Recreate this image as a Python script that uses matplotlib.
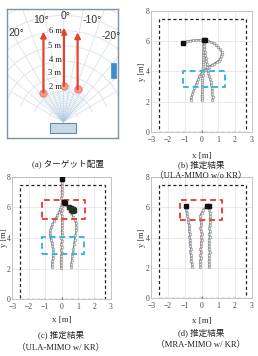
import numpy as np
import matplotlib
matplotlib.use('Agg')
import matplotlib.pyplot as plt
from matplotlib.patches import Rectangle

# ---------------- data ----------------
# (a) target layout (schematic, metres)
target_x = [-1.32, 0.03, 0.93]
target_start = [1.93, 2.37, 2.15]
target_end = [5.94, 6.20, 5.90]
range_labels = ['2 m', '3 m', '4 m', '5 m', '6 m']
angle_labels = ['20°', '10°', '0°', '-10°', '-20°']

# (b) ULA-MIMO w/o KR
blue_b_x = [-0.65, -0.60, -0.55, -0.48, -0.42, -0.35, -0.28, -0.20, -0.12, -0.03, 0.08, 0.20, 0.32, 0.45, 0.60,
            0.75, 0.90, 1.02, 1.12, 1.18, 1.20, 1.20, 1.12, 1.00, 0.88, 0.72, 0.55, 0.38, 0.20]
blue_b_y = [2.12, 2.30, 2.50, 2.70, 2.90, 3.10, 3.30, 3.50, 3.70, 3.85, 4.00, 4.12, 4.22, 4.32, 4.42,
            4.52, 4.62, 4.72, 4.85, 5.00, 5.15, 5.30, 5.45, 5.60, 5.73, 5.85, 5.95, 6.02, 6.06]
red_b_x = [0.00, 0.01, 0.00, 0.02, 0.01, 0.03, 0.02, 0.04, 0.03, 0.05, 0.04, 0.06, 0.05, 0.07, 0.06,
           0.08, 0.07, 0.09, 0.08, 0.10, 0.09, 0.11, 0.10, 0.12, 0.11, 0.12, 0.12]
red_b_y = [2.10, 2.25, 2.40, 2.55, 2.70, 2.85, 3.00, 3.15, 3.30, 3.45, 3.60, 3.75, 3.90, 4.05, 4.20,
           4.35, 4.50, 4.65, 4.80, 4.95, 5.10, 5.25, 5.40, 5.55, 5.70, 5.85, 6.05]
green_b_x = [0.65, 0.66, 0.64, 0.63, 0.60, 0.58, 0.55, 0.50, 0.45, 0.40, 0.36, 0.33, 0.30, 0.28, 0.25,
             0.22, 0.20, 0.17, 0.15, 0.12, 0.08, -0.10, -0.30, -0.50, -0.70, -0.85, -1.00, -1.09]
green_b_y = [2.12, 2.30, 2.50, 2.70, 2.90, 3.10, 3.30, 3.50, 3.70, 3.90, 4.10, 4.30, 4.50, 4.70, 4.90,
             5.10, 5.30, 5.50, 5.70, 5.90, 6.05, 6.08, 6.08, 6.06, 6.03, 6.00, 5.93, 5.85]

# (c) ULA-MIMO w/ KR
blue_c_x = [-0.60, -0.58, -0.55, -0.53, -0.52, -0.50, -0.52, -0.55, -0.60, -0.65, -0.68, -0.70, -0.68, -0.62,
            -0.55, -0.45, -0.35, -0.25, -0.15, -0.07, 0.00, 0.08, 0.15]
blue_c_y = [2.09, 2.30, 2.50, 2.70, 2.90, 3.10, 3.30, 3.50, 3.70, 3.90, 4.10, 4.30, 4.50, 4.70,
            4.90, 5.10, 5.30, 5.50, 5.70, 5.90, 6.10, 6.25, 6.35]
red_c_x = [-0.05, -0.03, -0.06, -0.02, -0.04, 0.00, -0.03, 0.01, -0.02, 0.02, -0.01, 0.03, 0.00, 0.04, 0.01,
           0.03, 0.00, 0.02, -0.01, 0.01, -0.02, 0.00, 0.02, -0.01, 0.01, 0.00, 0.02, 0.00, 0.01, 0.00]
red_c_y = [2.02, 2.22, 2.42, 2.62, 2.82, 3.02, 3.22, 3.42, 3.62, 3.82, 4.02, 4.22, 4.42, 4.62, 4.82,
           5.02, 5.22, 5.42, 5.62, 5.82, 6.02, 6.22, 6.42, 6.62, 6.82, 7.02, 7.22, 7.42, 7.62, 7.85]
green_c_x = [0.58, 0.60, 0.62, 0.66, 0.70, 0.73, 0.76, 0.80, 0.85, 0.90, 0.90, 0.86, 0.80, 0.70, 0.60,
             0.50, 0.40, 0.30, 0.20]
green_c_y = [2.09, 2.30, 2.57, 2.80, 3.05, 3.30, 3.60, 3.90, 4.20, 4.50, 4.75, 5.00, 5.20, 5.40, 5.60,
             5.80, 6.00, 6.18, 6.30]
end_c_x = [0.45, 0.55, 0.62, 0.70, 0.75, 0.68, 0.58]
end_c_y = [6.00, 5.95, 5.90, 5.88, 5.80, 5.75, 5.85]

# (d) MRA-MIMO w/ KR
blue_d_x = [-0.55, -0.58, -0.62, -0.60, -0.65, -0.68, -0.64, -0.66, -0.70, -0.68, -0.72, -0.70, -0.74, -0.72,
            -0.76, -0.78, -0.80, -0.85, -0.88, -0.92, -0.93]
blue_d_y = [2.06, 2.25, 2.45, 2.65, 2.85, 3.05, 3.25, 3.45, 3.65, 3.85, 4.05, 4.25, 4.45, 4.65,
            4.85, 5.05, 5.25, 5.45, 5.65, 5.85, 6.10]
red_d_x = [-0.09, -0.06, -0.10, -0.05, -0.08, -0.03, -0.07, -0.02, -0.05, 0.00, -0.04, 0.01, -0.03, -0.06,
           -0.02, -0.05, -0.08, -0.09, 0.00, 0.11, 0.25, 0.35]
red_d_y = [2.02, 2.22, 2.42, 2.62, 2.82, 3.02, 3.22, 3.42, 3.62, 3.82, 4.02, 4.22, 4.42, 4.62,
           4.82, 5.02, 5.22, 5.45, 5.65, 5.85, 6.02, 6.10]
green_d_x = [0.45, 0.46, 0.44, 0.47, 0.45, 0.48, 0.46, 0.44, 0.47, 0.45, 0.48, 0.46, 0.49, 0.47, 0.48,
             0.50, 0.48, 0.50, 0.49, 0.47, 0.47]
green_d_y = [2.02, 2.22, 2.42, 2.62, 2.82, 3.02, 3.22, 3.42, 3.62, 3.82, 4.02, 4.22, 4.42, 4.62, 4.82,
             5.02, 5.22, 5.42, 5.62, 5.85, 6.11]

# regions
area_rect = (-2.55, 0.0, 2.65, 7.47)
cyan_b = (-1.12, 2.96, 1.40, 4.05)
red_c = (-1.20, 5.24, 1.45, 6.49)
cyan_c = (-1.20, 2.96, 1.40, 4.07)
red_d = (-1.30, 5.18, 1.22, 6.52)

xticks = [-3, -2, -1, 0, 1, 2, 3]
yticks = [0, 2, 4, 6, 8]

C_BLUE = '#5a64a8'
C_RED = '#c4545e'
C_GREEN = '#5a9a66'

SERIF = ['Liberation Serif', 'DejaVu Serif']
JP = ['Liberation Serif', 'Noto Sans CJK JP']

fig = plt.figure(figsize=(2.58, 3.56), dpi=100)
W, H = 258.0, 356.0


def px_axes(l, t, r, b):
    return fig.add_axes([l / W, 1 - b / H, (r - l) / W, (b - t) / H])


# ---------------- panel (a) ----------------
axa = px_axes(7, 9, 118, 138)
axa.set_xlim(-3.72, 3.59)
axa.set_ylim(-1.05, 7.43)
axa.set_xticks([])
axa.set_yticks([])
for s in axa.spines.values():
    s.set_color('#7f93a8')
    s.set_linewidth(1.0)

gc = '#dae2ea'
for ang in range(-60, 61, 10):
    t = np.deg2rad(ang)
    axa.plot([0, 12 * np.sin(t)], [0, 12 * np.cos(t)], color=gc, lw=0.6, zorder=1)
for ang in np.arange(-45, 46, 3):
    t = np.deg2rad(ang)
    axa.plot([0, 2.3 * np.sin(t)], [0, 2.3 * np.cos(t)], color='#a9c6e2', lw=0.4,
             ls=(0, (1.5, 1.5)), zorder=1)
th = np.deg2rad(np.linspace(-70, 70, 200))
for r in range(1, 10):
    axa.plot(r * np.sin(th), r * np.cos(th), color=gc, lw=0.6, zorder=1)

for x, y0, y1 in zip(target_x, target_start, target_end):
    axa.annotate('', xy=(x, y1), xytext=(x, y0),
                 arrowprops=dict(arrowstyle='-|>', color='#e5432c', lw=1.6,
                                 mutation_scale=8, shrinkA=0, shrinkB=0), zorder=4)
    axa.plot([x], [y0], 'o', ms=5, color='#f3a08e', mec='#f08a74', zorder=3)

range_pos = [2.32, 3.22, 4.08, 5.0, 5.98]
for lab, yy in zip(range_labels, range_pos):
    axa.text(-0.56, yy, lab, ha='center', va='center', fontsize=6.2, family=SERIF,
             color='#222222', zorder=5,
             bbox=dict(boxstyle='square,pad=0.05', fc='white', ec='none', alpha=0.6))

angle_pos = [(-3.13, 5.86), (-1.48, 6.71), (0.16, 6.97), (1.88, 6.71), (3.13, 5.66)]
for lab, (xx, yy) in zip(angle_labels, angle_pos):
    axa.text(xx, yy, lab, ha='center', va='center', fontsize=7.5,
             family=['Liberation Sans', 'DejaVu Sans'], color='#333333', zorder=5)

axa.add_patch(Rectangle((-0.89, -0.72), 1.71, 0.65, fc='#cad9e6', ec='#5f8ab0', lw=0.8, zorder=3))
axa.add_patch(Rectangle((3.13, 2.89), 0.33, 0.99, fc='#3c8dc9', ec='#3c8dc9', lw=0.5, zorder=3))


# ---------------- trajectory panels ----------------
def traj_axes(ax, ylab_x, xlab_y):
    ax.set_xlim(-3, 3)
    ax.set_ylim(0, 8)
    ax.set_xticks(xticks)
    ax.set_yticks(yticks)
    ax.grid(True, color='#e6e6e6', lw=0.6)
    ax.set_axisbelow(True)
    ax.tick_params(labelsize=5.5, length=0, colors='#444444')
    ax.tick_params(axis='y', pad=1.0)
    ax.tick_params(axis='x', pad=3)
    for lab in ax.get_xticklabels() + ax.get_yticklabels():
        lab.set_family(SERIF)
    for s in ax.spines.values():
        s.set_color('#bbbbbb')
        s.set_linewidth(0.6)
    ax.set_xlabel('x [m]', fontsize=6.5, family=SERIF, color='#333333')
    ax.set_ylabel('y [m]', fontsize=6.0, family=SERIF, color='#333333')
    ax.yaxis.set_label_coords(ylab_x, 0.5)
    ax.xaxis.set_label_coords(0.5, xlab_y)
    x0, y0, x1, y1 = area_rect
    ax.add_patch(Rectangle((x0, y0), x1 - x0, y1 - y0, fill=False, ec='#222222',
                           lw=0.9, ls=(0, (2.5, 2)), zorder=2))
    ax.plot([0], [0], marker='|', ms=3, color='#4caf50', zorder=3)


def region(ax, r, color):
    x0, y0, x1, y1 = r
    ax.add_patch(Rectangle((x0, y0), x1 - x0, y1 - y0, fill=False, ec=color,
                           lw=1.4, ls=(0, (3, 2)), zorder=5, joinstyle='round'))


def track(ax, xs, ys, color):
    ax.plot(xs, ys, '-', color=color, lw=1.0, zorder=3)
    ax.plot(xs, ys, 'o', ms=1.9, mfc='#f4f4f4', mec='#7d7d7d', mew=0.45, alpha=0.85, zorder=4)
    ax.plot([xs[-1]], [ys[-1]], 's', ms=2.6, color='#111111', zorder=6)


axb = px_axes(151.3, 10.7, 251.7, 132.3)
traj_axes(axb, -0.05, -0.165)
track(axb, blue_b_x, blue_b_y, C_BLUE)
track(axb, red_b_x, red_b_y, C_RED)
track(axb, green_b_x, green_b_y, C_GREEN)
region(axb, cyan_b, '#3cb4e2')

axc = px_axes(12.3, 176.7, 110.7, 299.3)
traj_axes(axc, -0.045, -0.14)
track(axc, blue_c_x, blue_c_y, C_BLUE)
track(axc, red_c_x, red_c_y, '#d14a4a')
track(axc, green_c_x, green_c_y, C_GREEN)
axc.plot(end_c_x, end_c_y, 's', ms=2.4, color='#223322', zorder=6)
region(axc, red_c, '#e8453c')
region(axc, cyan_c, '#3cb4e2')

axd = px_axes(151.3, 177.3, 251.7, 297.7)
traj_axes(axd, -0.05, -0.16)
track(axd, blue_d_x, blue_d_y, C_BLUE)
track(axd, red_d_x, red_d_y, '#b86c7a')
track(axd, green_d_x, green_d_y, C_GREEN)
region(axd, red_d, '#e8453c')

# ---------------- captions ----------------
def cap(x, y, s):
    fig.text(x / W, 1 - y / H, s, ha='center', va='center', fontsize=6.2, family=JP, color='#222222')

cap(68, 164, '(a) ターゲット配置')
cap(201, 165, '(b) 推定結果')
cap(201, 176.5, '（ULA-MIMO w/o KR）')
cap(61, 335, '(c) 推定結果')
cap(61, 348, '（ULA-MIMO w/ KR）')
cap(201, 333, '(d) 推定結果')
cap(201, 345.5, '（MRA-MIMO w/ KR）')

fig.savefig('out.png', dpi=100)
